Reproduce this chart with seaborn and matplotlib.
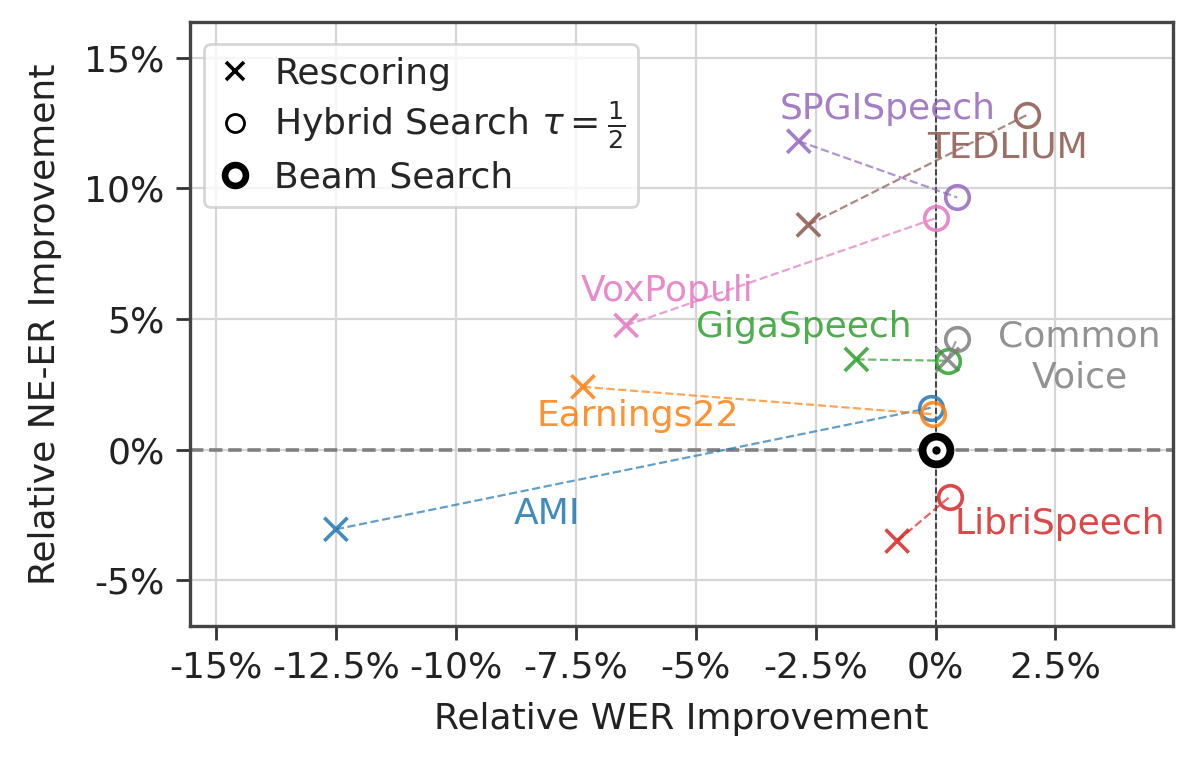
import numpy as np
import pandas as pd
import seaborn as sns
import matplotlib.pyplot as plt
from matplotlib.lines import Line2D
from matplotlib.ticker import FuncFormatter

# data: relative improvements in %
datasets = ['AMI', 'Earnings22', 'GigaSpeech', 'LibriSpeech', 'SPGISpeech',
            'TEDLIUM', 'VoxPopuli', 'Common Voice']
resc_wer = [-12.5, -7.35, -1.65, -0.8, -2.85, -2.65, -6.45, 0.25]
resc_ner = [-3.05, 2.4, 3.45, -3.5, 11.8, 8.6, 4.75, 3.45]
hyb_wer = [-0.1, -0.05, 0.25, 0.3, 0.45, 1.9, 0.0, 0.45]
hyb_ner = [1.6, 1.35, 3.4, -1.8, 9.65, 12.8, 8.85, 4.25]
label_pos = {
    'AMI': (-8.1, -2.45),
    'Earnings22': (-6.2, 1.3),
    'GigaSpeech': (-2.75, 4.7),
    'LibriSpeech': (2.6, -2.85),
    'SPGISpeech': (-1.0, 13.05),
    'TEDLIUM': (1.5, 11.55),
    'VoxPopuli': (-5.6, 6.05),
    'Common Voice': (3.0, 3.55),
}

df = pd.DataFrame({'dataset': datasets, 'resc_wer': resc_wer, 'resc_ner': resc_ner,
                   'hyb_wer': hyb_wer, 'hyb_ner': hyb_ner})

sns.set_style("whitegrid")
plt.rcParams['font.family'] = ['DejaVu Sans']
plt.rcParams['font.size'] = 13

fig = plt.figure(figsize=(6, 3.845), dpi=200)
ax = fig.add_axes([0.158, 0.186, 0.8195, 0.785])

ax.axhline(0, color='gray', ls='--', lw=1.3, zorder=1)
ax.axvline(0, color='black', ls='--', lw=0.6, alpha=0.8, zorder=1)

pal = dict(zip(datasets, sns.color_palette('tab10', 8)))
for i, row in df.iterrows():
    c = pal[row['dataset']]
    ax.plot([row['resc_wer'], row['hyb_wer']], [row['resc_ner'], row['hyb_ner']],
            ls='--', lw=0.8, color=c, alpha=0.7, zorder=2)
sns.scatterplot(data=df, x='resc_wer', y='resc_ner', hue='dataset', palette=pal,
                marker='x', s=70, linewidth=1.3, alpha=0.85, legend=False, ax=ax, zorder=3)
for i, row in df.iterrows():
    c = pal[row['dataset']]
    ax.plot(row['hyb_wer'], row['hyb_ner'], marker='o', ms=8.5, mfc='none',
            mec=c, mew=1.3, ls='none', alpha=0.85, zorder=3)
    tx, ty = label_pos[row['dataset']]
    name = row['dataset'].replace(' ', '\n')
    ax.text(tx, ty, name, color=c, ha='center', va='center', fontsize=13,
            linespacing=1.25, alpha=0.85, zorder=4)

# beam search baseline
ax.plot(0, 0, marker='o', ms=10, mfc='white', mec='black', mew=2.8, zorder=5)
ax.plot(0, 0, marker='.', ms=4, color='black', zorder=6)

ax.set_xlim(-15.55, 4.95)
ax.set_ylim(-6.75, 16.35)
ax.set_xticks([-15, -12.5, -10, -7.5, -5, -2.5, 0, 2.5])
ax.set_yticks([-5, 0, 5, 10, 15])
ax.xaxis.set_major_formatter(FuncFormatter(lambda v, p: f'{v:g}%'))
ax.yaxis.set_major_formatter(FuncFormatter(lambda v, p: f'{v:g}%'))
ax.tick_params(axis='both', which='major', length=5, width=1, color='#333333',
               labelsize=13, bottom=True, left=True, colors='#222222', pad=4)
ax.grid(True, color='#d5d5d5', lw=0.8)
for s in ax.spines.values():
    s.set_edgecolor('#444444')
    s.set_linewidth(1.2)
ax.set_xlabel('Relative WER Improvement', fontsize=13, color='#222222', labelpad=6)
ax.set_ylabel('Relative NE-ER Improvement', fontsize=13, color='#222222', labelpad=8)

handles = [
    Line2D([], [], marker='x', color='black', ls='none', ms=6.5, mew=1.3),
    Line2D([], [], marker='o', mfc='none', mec='black', ls='none', ms=6.5, mew=1.0),
    Line2D([], [], marker='o', mfc='white', mec='black', ls='none', ms=7.5, mew=2.4),
]
labels = ['Rescoring', r'Hybrid Search $\tau = \frac{1}{2}$', 'Beam Search']
leg = ax.legend(handles, labels, loc='upper left', bbox_to_anchor=(0.0, 0.988),
                fontsize=13, frameon=True,
                handlelength=1.0, handletextpad=0.6, borderpad=0.35,
                labelspacing=0.25, borderaxespad=0.4)
leg.get_frame().set_edgecolor('#cccccc')

fig.savefig('out.png', dpi=200)
